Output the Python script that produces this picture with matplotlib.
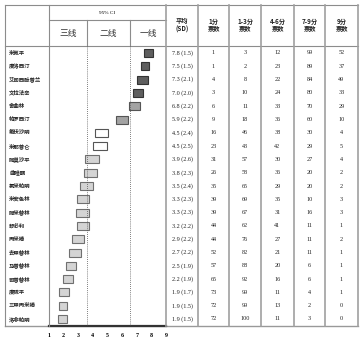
import matplotlib.pyplot as plt

plt.rcParams['font.family'] = ['Noto Sans CJK SC', 'DejaVu Sans']

drugs = ["米氮平", "度洛西汀", "艾司西酞普兰", "文拉法辛", "舍曲林", "帕罗西汀", "氟伏沙明",
         "米那普仑", "阿莫沙平", "曲唑酮", "氯米帕明", "米安色林", "阿米替林", "舒必利",
         "丙米嗪", "去甲替林", "马普替林", "司普替林", "度硫平", "三甲丙米嗪", "洛非帕明"]
mean = [7.8, 7.5, 7.3, 7.0, 6.8, 5.9, 4.5, 4.5, 3.9, 3.8, 3.5, 3.3, 3.3, 3.2, 2.9, 2.7, 2.5, 2.2, 1.9, 1.9, 1.9]
sd = [1.5, 1.5, 2.1, 2.0, 2.2, 2.2, 2.4, 2.5, 2.6, 2.3, 2.4, 2.3, 2.3, 2.2, 2.2, 2.2, 1.9, 1.9, 1.7, 1.5, 1.5]
ci_low = [7.52, 7.27, 7.0, 6.72, 6.45, 5.56, 4.17, 4.03, 3.48, 3.41, 3.14, 2.89, 2.87, 2.89, 2.6, 2.39, 2.16,
          1.93, 1.66, 1.66, 1.64]
ci_high = [8.14, 7.84, 7.79, 7.45, 7.22, 6.38, 5.01, 4.97, 4.44, 4.28, 4.03, 3.76, 3.74, 3.72, 3.37, 3.19, 2.87,
           2.64, 2.34, 2.2, 2.2]
votes_1 = [1, 1, 4, 3, 6, 9, 16, 23, 31, 26, 35, 39, 39, 44, 44, 52, 57, 65, 73, 72, 72]
votes_1_3 = [3, 2, 8, 10, 11, 18, 46, 43, 57, 58, 65, 69, 67, 62, 76, 82, 88, 92, 99, 99, 100]
votes_4_6 = [12, 23, 22, 24, 33, 36, 38, 42, 30, 36, 29, 35, 31, 41, 27, 21, 20, 16, 11, 13, 11]
votes_7_9 = [99, 89, 84, 80, 70, 60, 30, 29, 27, 20, 20, 10, 16, 11, 11, 11, 6, 6, 4, 2, 3]
votes_9 = [52, 37, 49, 33, 29, 10, 4, 5, 4, 2, 2, 3, 3, 1, 2, 1, 1, 1, 1, 0, 0]
tier = ["一线"] * 4 + ["一线b"] * 2 + ["二线"] * 2 + ["三线"] * 13
tier_colors = {"一线": ("#5e5e5e", "#333333"), "一线b": ("#a3a3a3", "#555555"),
               "二线": ("#ffffff", "#555555"), "三线": ("#d4d4d4", "#707070")}
ticks = [1, 2, 3, 4, 5, 6, 7, 8, 9]
cut_lines = [3.57, 6.54]

W, H = 364, 342
fig = plt.figure(figsize=(W / 100, H / 100), dpi=100)
bg = fig.add_axes([0, 0, 1, 1])
bg.set_xlim(0, W)
bg.set_ylim(H, 0)
bg.axis('off')

row0, row_h = 53, 13.3
y_top, y_mid, y_head, y_bot = 5, 20, 46.4, 46.4 + row_h * len(drugs)
x_left, x_ci0, x_ci1 = 5, 49, 166
col_edges = [166, 198, 229, 261, 294, 325, 358]
lc = "#8c8c8c"

# table frame
for y in [y_top, y_head]:
    bg.plot([x_left, col_edges[-1]], [y, y], color=lc, lw=0.8)
bg.plot([x_left, col_edges[-1]], [y_bot, y_bot], color="#999999", lw=1.0)
bg.plot([x_ci0, x_ci1], [y_bot, y_bot], color="#333333", lw=1.6)
bg.plot([x_ci0, x_ci1], [y_mid, y_mid], color=lc, lw=0.8)
bg.plot([x_left, x_left], [y_top, y_bot], color=lc, lw=0.8)
bg.plot([x_ci0, x_ci0], [y_top, y_bot], color=lc, lw=0.8)
for x in col_edges:
    bg.plot([x, x], [y_top, y_bot], color="#a0a0a0", lw=1.2)
for x in [87, 130]:
    bg.plot([x, x], [y_mid, y_head], color=lc, lw=0.8)

# headers
bg.text((x_ci0 + x_ci1) / 2, 13, "95% CI", fontsize=3.8, family='Liberation Serif', ha='center', va='center')
for x, t in zip([68, 108, 148], ["三线", "二线", "一线"]):
    bg.text(x, 33.5, t, fontsize=6.3, ha='center', va='center', color="#333333")
headers = ["平均\n(SD)", "1分\n票数", "1-3分\n票数", "4-6分\n票数", "7-9分\n票数", "9分\n票数"]
for i, t in enumerate(headers):
    xc = (col_edges[i] + col_edges[i + 1]) / 2
    bg.text(xc, 25, t, fontsize=4.5, ha='center', va='center', linespacing=1.15, color="#222222",
            fontweight='bold')

# rows
for i, name in enumerate(drugs):
    y = row0 + i * row_h
    bg.text(x_left + 4, y, name, fontsize=3.9, ha='left', va='center', color="#222222", fontweight='bold')
    cells = ["%.1f (%.1f)" % (mean[i], sd[i]), votes_1[i], votes_1_3[i], votes_4_6[i], votes_7_9[i], votes_9[i]]
    for j, c in enumerate(cells):
        xc = (col_edges[j] + col_edges[j + 1]) / 2
        bg.text(xc, y, str(c), fontsize=4.4, family='Liberation Serif', ha='center', va='center',
                color="#222222")

# CI chart
ax = fig.add_axes([x_ci0 / W, 1 - y_bot / H, (x_ci1 - x_ci0) / W, (y_bot - y_head) / H])
ax.patch.set_alpha(0)
ax.set_xlim(1, 9)
ax.set_ylim(len(drugs) - 0.5, -0.5)
rows = list(range(len(drugs)))
widths = [h - l for l, h in zip(ci_low, ci_high)]
ax.barh(rows, widths, left=ci_low, height=0.6,
        color=[tier_colors[t][0] for t in tier], edgecolor=[tier_colors[t][1] for t in tier], linewidth=0.8)
for c in cut_lines:
    ax.axvline(c, color="#555555", lw=0.6, linestyle=(0, (1, 1.5)))
for s in ax.spines.values():
    s.set_visible(False)
ax.set_yticks([])
ax.set_xticks(ticks)
ax.tick_params(axis='x', length=0, pad=5, labelsize=4.3)
for lab in ax.get_xticklabels():
    lab.set_family('Liberation Serif')
    lab.set_fontweight('bold')

fig.savefig("out.png", dpi=100)
